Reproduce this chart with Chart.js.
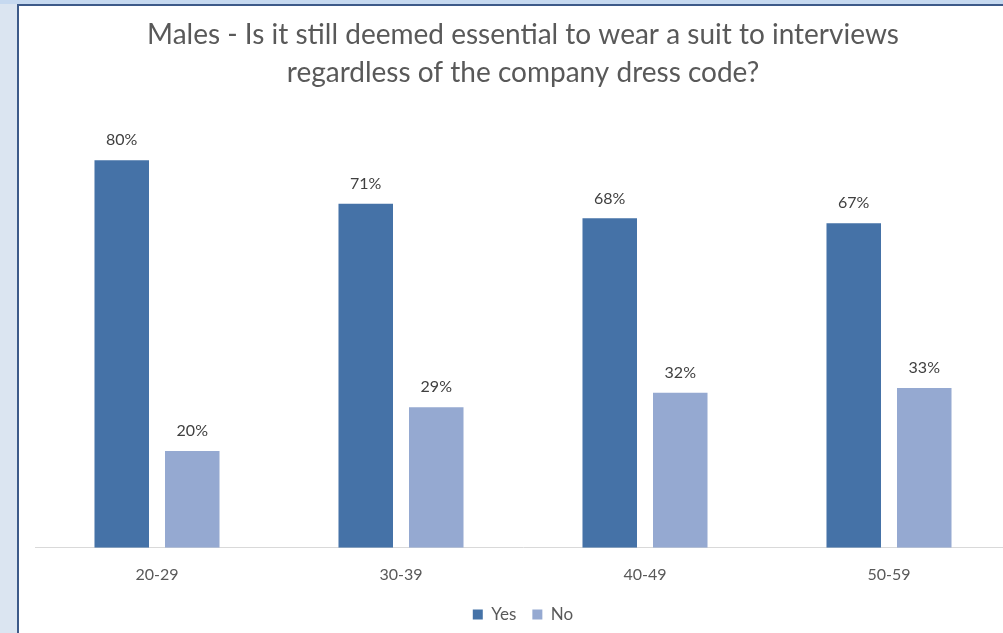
<!DOCTYPE html>
<html>
<head>
<meta charset="utf-8">
<script src="https://cdn.jsdelivr.net/npm/chart.js@4.4.1/dist/chart.umd.min.js"></script>
<style>
  html, body { margin: 0; padding: 0; overflow: hidden; }
  body { width: 1003px; height: 633px; background: #dbe5f1; position: relative; }
  #topstrip { position: absolute; left: 0; top: 0; width: 1003px; height: 4px; background: #c6d9f0; }
  #frame { position: absolute; left: 17px; top: 4px; width: 1020px; height: 660px;
           border: 2px solid #3d5a89; background: #fff; }
  #chart { position: absolute; left: 0; top: 0; }
</style>
</head>
<body>
<div id="topstrip"></div>
<div id="frame"><canvas id="chart" width="1008" height="640"></canvas></div>
<script>
const titleLines = ["Males - Is it still deemed essential to wear a suit to interviews", "regardless of the company dress code?"];
const ageGroups = ["20-29", "30-39", "40-49", "50-59"];
const yesValues = [80, 71, 68, 67];
const noValues = [20, 29, 32, 33];

const fontFamily = "Lato, 'Open Sans', sans-serif";

// percent labels above every bar
const barLabels = {
    id: "barLabels",
    afterDatasetsDraw(chart) {
        const ctx = chart.ctx;
        ctx.save();
        ctx.font = "16px " + fontFamily;
        ctx.fillStyle = "#404040";
        ctx.textAlign = "center";
        ctx.textBaseline = "middle";
        chart.data.datasets.forEach(function(ds, i) {
            chart.getDatasetMeta(i).data.forEach(function(bar, j) {
                ctx.fillText(ds.data[j] + "%", bar.x, bar.y - 20);
            });
        });
        ctx.restore();
    }
};

new Chart("chart", {
    type: "bar",
    data: {
        labels: ageGroups,
        datasets: [{
            label: "Yes",
            data: yesValues,
            backgroundColor: "#4572a7"
        }, {
            label: "No",
            data: noValues,
            backgroundColor: "#95a9d1"
        }]
    },
    options: {
        responsive: false,
        animation: false,
        categoryPercentage: 0.578,
        barPercentage: 0.773,
        layout: { padding: { left: 16, right: 16, top: 0, bottom: 13 } },
        scales: {
            x: {
                grid: { display: false, drawTicks: false },
                border: { display: true, color: "#d9d9d9", width: 1 },
                ticks: { color: "#595959", font: { family: fontFamily, size: 16 }, padding: 17 },
                // pull the legend up closer to the tick labels
                afterFit: function(scale) { scale.height -= 11; }
            },
            y: {
                display: false,
                min: 0,
                max: 85
            }
        },
        plugins: {
            title: {
                display: true,
                text: titleLines,
                color: "#595959",
                font: { family: fontFamily, size: 28, weight: "normal", lineHeight: 1.357 },
                padding: { top: 10, bottom: 44 }
            },
            legend: {
                position: "bottom",
                labels: {
                    color: "#595959",
                    font: { family: fontFamily, size: 17 },
                    boxWidth: 10,
                    boxHeight: 10,
                    padding: 16
                }
            },
            tooltip: { enabled: false }
        }
    },
    plugins: [barLabels]
});
</script>
</body>
</html>
